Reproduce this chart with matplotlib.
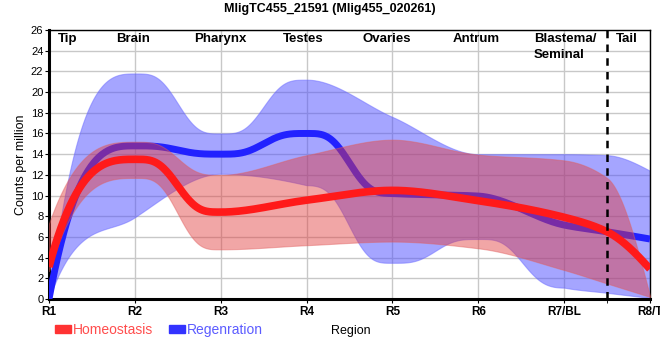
import numpy as np
import matplotlib
matplotlib.use('Agg')
import matplotlib.pyplot as plt
from matplotlib.patches import Patch

plt.rcParams['font.family'] = ['Liberation Sans', 'DejaVu Sans']

# region positions (R7.5 = BL/Tail boundary)
x_pos = [1, 2, 3, 4, 5, 6, 7, 7.5, 8]
x_ticks = [1, 2, 3, 4, 5, 6, 7, 8]
x_labels = ['R1', 'R2', 'R3', 'R4', 'R5', 'R6', 'R7/BL', 'R8/T']

homeo_mean = [3.1, 13.5, 8.4, 9.55, 10.5, 9.5, 7.9, 6.5, 2.9]
homeo_upper = [7.3, 15.2, 12.0, 13.9, 15.4, 13.95, 13.4, 11.7, 0.3]
homeo_lower = [2.7, 11.7, 4.8, 5.2, 5.55, 4.9, 2.8, 1.5, 0.2]

regen_mean = [0.0, 14.8, 14.0, 16.0, 10.2, 9.95, 7.15, 6.5, 5.8]
regen_upper = [0.0, 21.8, 16.0, 21.2, 17.6, 14.0, 14.0, 13.9, 12.4]
regen_lower = [0.0, 7.9, 12.1, 11.0, 3.5, 5.8, 1.1, 0.6, 0.1]

region_names = ['Tip', 'Brain', 'Pharynx', 'Testes', 'Ovaries', 'Antrum', 'Tail']
region_x = [1.22, 1.98, 3.0, 3.96, 4.94, 5.98, 7.73]


def smooth(xk, yk, n=600):
    # monotone cubic (pchip style) through the points, plateaus kept flat
    xk = np.asarray(xk, float)
    yk = np.asarray(yk, float)
    h = np.diff(xk)
    d = np.diff(yk) / h
    m = np.zeros_like(yk)
    for k in range(1, len(xk) - 1):
        if d[k - 1] * d[k] <= 0:
            m[k] = 0
        else:
            w1 = 2 * h[k] + h[k - 1]
            w2 = h[k] + 2 * h[k - 1]
            m[k] = (w1 + w2) / (w1 / d[k - 1] + w2 / d[k])
    m[0] = 3 * d[0]
    e = ((2 * h[-1] + h[-2]) * d[-1] - h[-1] * d[-2]) / (h[-1] + h[-2])
    if np.sign(e) != np.sign(d[-1]):
        e = 0
    elif np.sign(d[-1]) != np.sign(d[-2]) and abs(e) > 3 * abs(d[-1]):
        e = 3 * d[-1]
    m[-1] = e
    xs = np.linspace(xk[0], xk[-1], n)
    idx = np.clip(np.searchsorted(xk, xs, side='right') - 1, 0, len(xk) - 2)
    hh = h[idx]
    t = (xs - xk[idx]) / hh
    # sharper step between two flat ends
    flat = (np.abs(m[idx]) <= 0.35 * np.abs(d[idx])) & (np.abs(m[idx + 1]) <= 0.35 * np.abs(d[idx]))
    t = np.where(flat & (np.abs(d[idx]) > 0), t * t * (3 - 2 * t), t)
    h00 = 2 * t**3 - 3 * t**2 + 1
    h10 = t**3 - 2 * t**2 + t
    h01 = -2 * t**3 + 3 * t**2
    h11 = t**3 - t**2
    ys = h00 * yk[idx] + h10 * hh * m[idx] + h01 * yk[idx + 1] + h11 * hh * m[idx + 1]
    return xs, ys


fig = plt.figure(figsize=(6.6, 3.6), dpi=100)
ax = fig.add_axes([0.0742, 0.1694, 0.9106, 0.7473])

xs, ru = smooth(x_pos, regen_upper)
_, rl = smooth(x_pos, regen_lower)
_, rm = smooth(x_pos, regen_mean)
_, hu = smooth(x_pos, homeo_upper)
_, hl = smooth(x_pos, homeo_lower)
_, hm = smooth(x_pos, homeo_mean)

ax.fill_between(xs, rl, ru, color='#4d4dff', alpha=0.5, lw=0.8, edgecolor='#6a6aff', zorder=2)
ax.plot(xs, rm, color='#2222ff', lw=5, solid_capstyle='butt', zorder=3)
ax.fill_between(xs, hl, hu, color='#e23a3a', alpha=0.45, lw=0.8, edgecolor='#e06060', zorder=4)
ax.plot(xs, hm, color='#ff1a1a', lw=5.5, solid_capstyle='butt', zorder=5)

ax.axvline(7.5, color='black', ls=(0, (3, 2.5)), lw=1.8, zorder=6)

ax.set_xlim(1, 8)
ax.set_ylim(0, 26)
ax.set_yticks(np.arange(0, 27, 2))
ax.set_xticks(x_ticks)
ax.set_xticklabels(x_labels, fontweight='bold', fontsize=8.5)
ax.set_xticks([7.5], minor=True)
ax.tick_params(axis='y', labelsize=8, length=3, pad=1)
ax.tick_params(axis='x', length=3, pad=2)
ax.tick_params(axis='x', which='minor', length=3)
ax.grid(True, color='#c8c8c8', lw=1, zorder=0)
ax.set_axisbelow(True)
for s in ['left', 'bottom']:
    ax.spines[s].set_linewidth(2.2)
for s in ['top', 'right']:
    ax.spines[s].set_linewidth(1)

for name, xp in zip(region_names, region_x):
    ax.text(xp, 25.75, name, ha='center', va='top', fontweight='bold', fontsize=9.5, zorder=7)
ax.text(6.65, 25.75, 'Blastema/\nSeminal', ha='left', va='top', fontweight='bold',
        fontsize=9.5, linespacing=1.45, zorder=7)

fig.text(0.5, 0.975, 'MligTC455_21591 (Mlig455_020261)', ha='center', va='center',
         fontweight='bold', fontsize=9)
ax.set_ylabel('Counts per million', fontsize=9, labelpad=3)
fig.text(0.532, 0.08, 'Region', ha='center', va='center', fontsize=9)

handles = [Patch(color='#ff3333', label='Homeostasis'), Patch(color='#3333ff', label='Regenration')]
fig.legend(handles=handles, loc='center left', bbox_to_anchor=(0.083, 0.083), ncol=2,
           frameon=False, fontsize=10, handlelength=1.15, handleheight=0.45, handletextpad=0.15,
           columnspacing=1.15, labelcolor=['#ff4d4d', '#5c5cff'], borderaxespad=0, borderpad=0)

fig.savefig('out.png', dpi=100)
